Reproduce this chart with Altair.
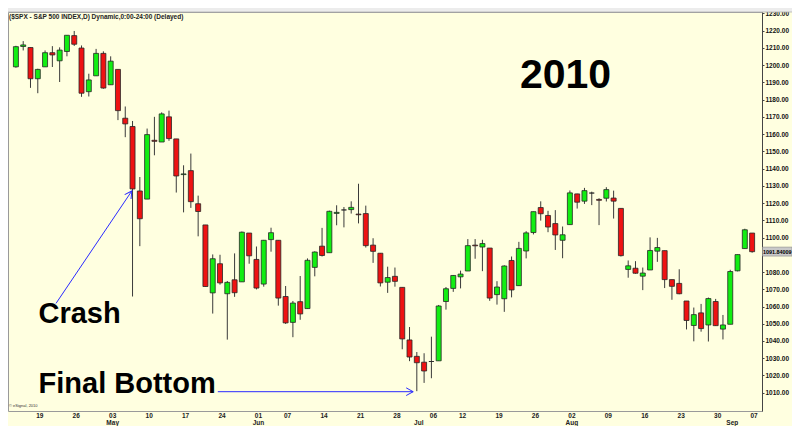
import math
import altair as alt
import pandas as pd

# ---------------- data ----------------
dates = [
    "2010-04-14", "2010-04-15", "2010-04-16", "2010-04-19", "2010-04-20", "2010-04-21", "2010-04-22", "2010-04-23",
    "2010-04-26", "2010-04-27", "2010-04-28", "2010-04-29", "2010-04-30", "2010-05-03", "2010-05-04", "2010-05-05",
    "2010-05-06", "2010-05-07", "2010-05-10", "2010-05-11", "2010-05-12", "2010-05-13", "2010-05-14", "2010-05-17",
    "2010-05-18", "2010-05-19", "2010-05-20", "2010-05-21", "2010-05-24", "2010-05-25", "2010-05-26", "2010-05-27",
    "2010-05-28", "2010-06-01", "2010-06-02", "2010-06-03", "2010-06-04", "2010-06-07", "2010-06-08", "2010-06-09",
    "2010-06-10", "2010-06-11", "2010-06-14", "2010-06-15", "2010-06-16", "2010-06-17", "2010-06-18", "2010-06-21",
    "2010-06-22", "2010-06-23", "2010-06-24", "2010-06-25", "2010-06-28", "2010-06-29", "2010-06-30", "2010-07-01",
    "2010-07-02", "2010-07-06", "2010-07-07", "2010-07-08", "2010-07-09", "2010-07-12", "2010-07-13", "2010-07-14",
    "2010-07-15", "2010-07-16", "2010-07-19", "2010-07-20", "2010-07-21", "2010-07-22", "2010-07-23", "2010-07-26",
    "2010-07-27", "2010-07-28", "2010-07-29", "2010-07-30", "2010-08-02", "2010-08-03", "2010-08-04", "2010-08-05",
    "2010-08-06", "2010-08-09", "2010-08-10", "2010-08-11", "2010-08-12", "2010-08-13", "2010-08-16", "2010-08-17",
    "2010-08-18", "2010-08-19", "2010-08-20", "2010-08-23", "2010-08-24", "2010-08-25", "2010-08-26", "2010-08-27",
    "2010-08-30", "2010-08-31", "2010-09-01", "2010-09-02", "2010-09-03", "2010-09-07",
]
opens = [
    1199.0, 1210.8, 1210.2, 1192.1, 1199.0, 1207.2, 1202.5, 1207.9, 1217.1, 1209.9, 1184.6, 1193.8, 1206.8, 1188.6,
    1197.5, 1169.2, 1164.4, 1127.0, 1122.3, 1156.4, 1155.4, 1170.0, 1157.2, 1136.5, 1138.8, 1119.6, 1107.3, 1067.9,
    1084.8, 1067.4, 1075.5, 1074.3, 1102.6, 1087.3, 1073.0, 1098.8, 1098.4, 1065.8, 1050.8, 1062.8, 1058.8, 1082.7,
    1095.0, 1091.2, 1114.0, 1116.0, 1116.2, 1113.6, 1113.9, 1095.6, 1090.9, 1074.1, 1077.5, 1071.1, 1040.6, 1031.1,
    1027.7, 1028.1, 1028.5, 1062.9, 1070.5, 1077.2, 1080.6, 1095.6, 1094.5, 1093.9, 1066.9, 1064.5, 1086.7, 1072.1,
    1092.2, 1102.9, 1117.4, 1112.8, 1108.1, 1098.4, 1107.5, 1125.3, 1121.1, 1125.8, 1122.1, 1122.8, 1122.9, 1116.9,
    1081.5, 1082.2, 1077.6, 1081.2, 1092.1, 1092.4, 1075.6, 1073.4, 1063.2, 1049.0, 1056.3, 1049.3, 1062.9, 1046.9,
    1049.7, 1080.7, 1093.6, 1102.6,
]
highs = [
    1211.2, 1213.9, 1210.2, 1197.9, 1208.5, 1211.0, 1210.3, 1217.3, 1219.8, 1211.4, 1195.0, 1209.4, 1208.0, 1205.1,
    1197.5, 1176.0, 1167.6, 1135.1, 1163.2, 1170.0, 1172.6, 1173.6, 1157.2, 1141.9, 1148.7, 1124.3, 1107.3, 1090.2,
    1090.0, 1074.8, 1090.8, 1103.5, 1102.6, 1094.8, 1098.6, 1105.7, 1098.4, 1071.9, 1063.2, 1077.7, 1087.9, 1092.0,
    1105.6, 1115.6, 1118.7, 1117.7, 1121.0, 1131.2, 1118.5, 1099.6, 1090.9, 1083.1, 1082.6, 1071.1, 1048.1, 1033.6,
    1032.9, 1042.5, 1060.9, 1071.3, 1078.2, 1080.8, 1099.1, 1099.1, 1098.7, 1093.9, 1074.7, 1083.9, 1089.0, 1097.5,
    1103.7, 1115.0, 1121.0, 1115.5, 1115.9, 1106.4, 1127.3, 1125.4, 1128.8, 1126.6, 1122.8, 1129.2, 1127.2, 1116.9,
    1086.7, 1086.3, 1082.6, 1100.1, 1099.8, 1092.4, 1075.6, 1081.6, 1063.2, 1059.4, 1061.5, 1065.2, 1064.4, 1055.1,
    1081.3, 1090.1, 1105.1, 1102.6,
]
lows = [
    1198.5, 1208.5, 1186.8, 1183.7, 1199.0, 1198.9, 1190.2, 1205.1, 1211.1, 1181.6, 1181.8, 1193.8, 1186.3, 1188.6,
    1168.1, 1158.2, 1065.8, 1095.0, 1122.3, 1147.7, 1155.4, 1156.1, 1126.1, 1114.6, 1117.2, 1100.7, 1071.6, 1055.9,
    1072.7, 1040.8, 1065.6, 1074.3, 1084.8, 1069.9, 1071.5, 1091.8, 1060.5, 1049.9, 1042.2, 1052.3, 1058.8, 1077.5,
    1089.0, 1091.2, 1107.1, 1105.9, 1113.9, 1108.2, 1094.2, 1085.3, 1071.6, 1067.9, 1071.5, 1035.2, 1028.3, 1010.9,
    1015.7, 1018.4, 1028.5, 1058.2, 1068.5, 1070.5, 1080.6, 1087.7, 1080.5, 1063.3, 1061.1, 1056.9, 1065.3, 1072.1,
    1087.9, 1101.8, 1109.8, 1103.1, 1092.8, 1088.0, 1107.5, 1116.8, 1119.5, 1118.8, 1107.2, 1120.9, 1111.0, 1089.0,
    1076.7, 1079.0, 1069.5, 1081.2, 1085.9, 1070.7, 1063.9, 1067.1, 1046.7, 1039.8, 1045.4, 1039.7, 1048.8, 1040.9,
    1049.7, 1080.4, 1093.6, 1091.2,
]
closes = [
    1210.7, 1211.7, 1192.1, 1197.5, 1207.2, 1205.9, 1208.7, 1217.3, 1212.1, 1183.7, 1191.4, 1206.8, 1186.7, 1202.3,
    1173.6, 1165.9, 1128.2, 1110.9, 1159.7, 1155.8, 1171.7, 1157.4, 1135.7, 1136.9, 1120.8, 1115.1, 1071.6, 1087.7,
    1073.7, 1074.0, 1068.0, 1103.1, 1089.4, 1070.7, 1098.4, 1102.8, 1064.9, 1050.5, 1062.0, 1055.7, 1086.8, 1091.6,
    1089.6, 1115.2, 1114.6, 1116.0, 1117.5, 1113.2, 1095.3, 1092.0, 1073.7, 1076.8, 1074.6, 1041.2, 1030.7, 1027.4,
    1022.6, 1028.1, 1060.3, 1070.3, 1078.0, 1078.8, 1095.3, 1095.2, 1096.5, 1064.9, 1071.3, 1083.5, 1069.6, 1093.7,
    1102.7, 1115.0, 1113.8, 1106.1, 1101.5, 1101.6, 1125.9, 1120.5, 1127.2, 1125.8, 1121.6, 1127.8, 1121.1, 1089.5,
    1083.6, 1079.3, 1079.4, 1092.5, 1094.2, 1075.6, 1071.7, 1067.4, 1051.9, 1055.3, 1047.2, 1064.6, 1048.9, 1049.3,
    1080.3, 1090.1, 1104.5, 1091.8,
]

week_tick_dates = ["2010-04-19", "2010-04-26", "2010-05-03", "2010-05-10", "2010-05-17", "2010-05-24", "2010-06-01",
                   "2010-06-07", "2010-06-14", "2010-06-21", "2010-06-28", "2010-07-06", "2010-07-12", "2010-07-19",
                   "2010-07-26", "2010-08-02", "2010-08-09", "2010-08-16", "2010-08-23", "2010-08-30", "2010-09-07"]
week_tick_labels = ["19", "26", "03", "10", "17", "24", "01", "07", "14", "21", "28", "06", "12", "19", "26", "02",
                    "09", "16", "23", "30", "07"]
month_dates = ["2010-05-03", "2010-06-01", "2010-07-01", "2010-08-02", "2010-09-01"]
month_labels = ["May", "Jun", "Jul", "Aug", "Sep"]
# 1090.00 sits under the last-price box in the reference
y_tick_values = [1010, 1020, 1030, 1040, 1050, 1060, 1070, 1080, 1100, 1110, 1120, 1130, 1140, 1150, 1160,
                 1170, 1180, 1190, 1200, 1210, 1220, 1230]
last_price = 1091.84009
last_price_label = "1091.84009"
header = "($SPX - S&P 500 INDEX,D) Dynamic,0:00-24:00 (Delayed)"

# ---------------- layout ----------------
W, H = 754, 399
PAD_R = 30
FONT = "Liberation Sans"
X_DOM = [0.6, 102.67]
Y_DOM = [999.4, 1230.8]
xs = alt.Scale(domain=X_DOM, nice=False, zero=False)
ys = alt.Scale(domain=Y_DOM, nice=False, zero=False)
yaxis = alt.Axis(orient="right", values=y_tick_values, format=".2f", title=None, grid=False,
                 labelFont=FONT, labelFontSize=6.5, labelFontWeight="bold", labelColor="#111",
                 tickSize=2, tickColor="#444", domainColor="#444", labelPadding=1)

idx = list(range(1, len(dates) + 1))
df = pd.DataFrame({"i": idx, "date": dates, "open": opens, "high": highs, "low": lows, "close": closes})
df["dir"] = ["up" if c >= o else "down" for o, c in zip(opens, closes)]

X = alt.X("i:Q", scale=xs, axis=None)

wicks = alt.Chart(df).mark_rule(color="#3a3a3a", strokeWidth=1).encode(
    x=X, y=alt.Y("low:Q", scale=ys, axis=yaxis), y2="high:Q")

bodies = alt.Chart(df).mark_bar(size=5, stroke="#262626", strokeWidth=0.8).encode(
    x=X, y=alt.Y("open:Q", scale=ys, axis=yaxis), y2="close:Q",
    color=alt.Color("dir:N", scale=alt.Scale(domain=["up", "down"], range=["#12ee12", "#ee1212"]), legend=None))

# x labels (weeks + months)
wk = pd.DataFrame({"i": [dates.index(d) + 1 for d in week_tick_dates], "lab": week_tick_labels})
mo = pd.DataFrame({"i": [dates.index(d) + 1 for d in month_dates], "lab": month_labels})
wk_text = alt.Chart(wk).mark_text(fontSize=6.5, fontWeight="bold", font=FONT, color="#222", baseline="middle",
                                  dx=2).encode(x=X, y=alt.value(H + 4.5), text="lab:N")
mo_text = alt.Chart(mo).mark_text(fontSize=6.5, fontWeight="bold", font=FONT, color="#222", baseline="middle",
                                  dx=2).encode(x=X, y=alt.value(H + 11.5), text="lab:N")

# last price box on the right axis
lp = pd.DataFrame({"p": [last_price], "lo": [last_price - 2.6], "hi": [last_price + 2.6], "lab": [last_price_label]})
lp_box = alt.Chart(lp).mark_rect(fill="#c9c9c9", stroke="#8a8a8a", strokeWidth=0.6).encode(
    x=alt.value(W + 0.5), x2=alt.value(W + PAD_R), y=alt.Y("lo:Q", scale=ys, axis=yaxis), y2="hi:Q")
lp_txt = alt.Chart(lp).mark_text(align="left", baseline="middle", fontSize=5.4, fontWeight="bold", font=FONT,
                                 color="#000").encode(x=alt.value(W + 1), y=alt.Y("p:Q", scale=ys, axis=yaxis),
                                                      text="lab:N")

# annotations
x_per = W / (X_DOM[1] - X_DOM[0])
y_per = H / (Y_DOM[1] - Y_DOM[0])
arrows = pd.DataFrame({
    "x0": [6.5, 28.7], "y0": [1061.8, 1010.6],
    "x1": [16.9, 55.5], "y1": [1127.0, 1010.6],
})
arrows["ang"] = [
    math.degrees(math.atan2(-(r.y1 - r.y0) * y_per, (r.x1 - r.x0) * x_per)) % 360 for r in arrows.itertuples()
]
BLUE = "#2a2aff"
arrow_lines = alt.Chart(arrows).mark_rule(color=BLUE, strokeWidth=1).encode(
    x=alt.X("x0:Q", scale=xs, axis=None), x2="x1:Q", y=alt.Y("y0:Q", scale=ys, axis=yaxis), y2="y1:Q")
arrow_heads = alt.Chart(arrows).mark_point(shape="M -1 -0.55 L 0 0 L -1 0.55", filled=False, color=BLUE,
                                           strokeWidth=1, size=196, opacity=1).encode(
    x=alt.X("x1:Q", scale=xs, axis=None), y=alt.Y("y1:Q", scale=ys, axis=yaxis),
    angle=alt.Angle("ang:Q", scale=None))

notes = pd.DataFrame({"x": [4.1, 4.1], "y": [1050.6, 1009.7], "t": ["Crash", "Final Bottom"]})
notes_txt = alt.Chart(notes).mark_text(align="left", baseline="alphabetic", fontSize=29, fontWeight="bold",
                                       font=FONT, color="#000").encode(
    x=alt.X("x:Q", scale=xs, axis=None), y=alt.Y("y:Q", scale=ys, axis=yaxis), text="t:N")

year = pd.DataFrame({"x": [76.4], "y": [1186.8], "t": ["2010"]})
year_txt = alt.Chart(year).mark_text(align="center", baseline="alphabetic", fontSize=41, fontWeight="bold",
                                     font=FONT, color="#000").encode(
    x=alt.X("x:Q", scale=xs, axis=None), y=alt.Y("y:Q", scale=ys, axis=yaxis), text="t:N")

hdr = alt.Chart(pd.DataFrame({"t": [header]})).mark_text(align="left", baseline="middle", fontSize=6.5,
                                                          fontWeight="bold", font=FONT, color="#222").encode(
    x=alt.value(1), y=alt.value(4.5), text="t:N")
copy_txt = alt.Chart(pd.DataFrame({"t": ["\u00a9 eSignal, 2010"]})).mark_text(
    align="left", baseline="middle", fontSize=4, font=FONT, color="#333").encode(
    x=alt.value(1), y=alt.value(H - 5), text="t:N")

toolbar = alt.Chart(pd.DataFrame({"t": [0]})).mark_rect(fill="#ececec", stroke="#b0b0b0", strokeWidth=0.8).encode(
    x=alt.value(-1), x2=alt.value(W + PAD_R + 1), y=alt.value(-6), y2=alt.value(0))

chart = alt.layer(
    toolbar, wicks, bodies, arrow_lines, arrow_heads, notes_txt, year_txt, hdr, copy_txt,
    wk_text, mo_text, lp_box, lp_txt,
).properties(
    width=W, height=H,
    autosize=alt.AutoSizeParams(type="none"),
    padding={"left": 0, "top": 4, "right": PAD_R, "bottom": 15},
).configure(
    background="#ffffe0",
).configure_view(
    fill="#ffffe0", stroke="#9a9a9a", strokeWidth=1,
)

chart.save("out.html", embed_options={"renderer": "svg", "actions": False})
